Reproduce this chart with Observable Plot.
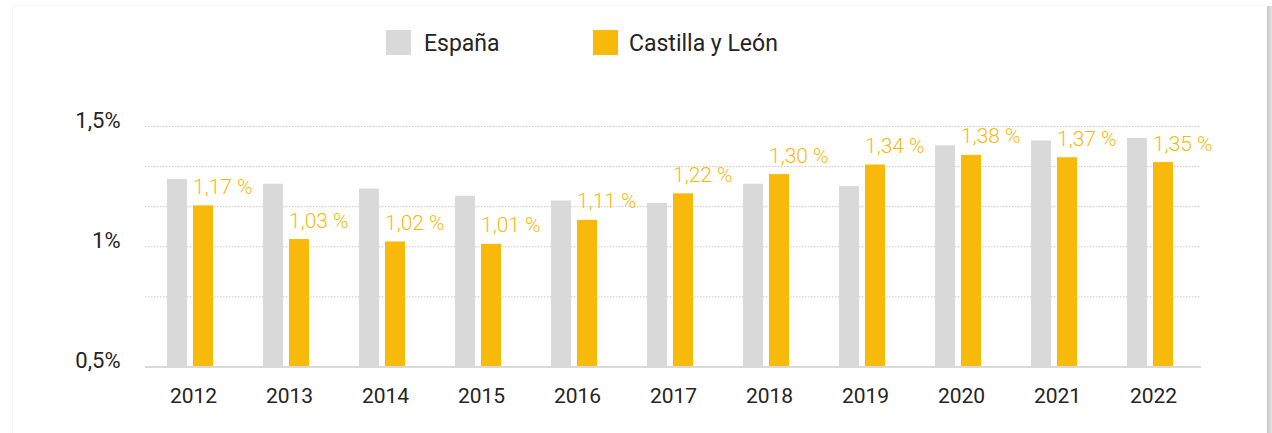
<!DOCTYPE html>
<html>
<head>
<meta charset="utf-8">
<script src="https://cdn.jsdelivr.net/npm/d3@7"></script>
<script src="https://cdn.jsdelivr.net/npm/@observablehq/plot@0.6"></script>
<style>
  html, body { margin: 0; padding: 0; background: #fff; }
  #wrap { position: relative; width: 1272px; height: 433px; overflow: hidden; font-family: Roboto, "Noto Sans", sans-serif; color: #252423; }
  #frame { position: absolute; left: 12px; top: 5px; right: 5px; bottom: -2px; border-left: 1px solid #f4f4f4; border-top: 1px solid #f4f4f4; }
  #shadow { position: absolute; left: 1267px; top: 6px; width: 5px; bottom: 0; background: linear-gradient(to right, #c6c6c6, #e4e4e4); }
  #legend { position: relative; height: 80px; }
  .sw { position: absolute; width: 25px; height: 25px; top: 30px; }
  .lt { position: absolute; top: 30px; font-size: 23px; line-height: 27px; color: #252423; white-space: nowrap; }
  #chart { position: absolute; left: 0; top: 80px; }
</style>
</head>
<body>
<div id="wrap">
  <div id="frame"></div>
  <div id="shadow"></div>
  <div id="legend"></div>
  <div id="chart"></div>
</div>
<script>
const years = ["2012","2013","2014","2015","2016","2017","2018","2019","2020","2021","2022"];
const espana = [1.28, 1.26, 1.24, 1.21, 1.19, 1.18, 1.26, 1.25, 1.42, 1.44, 1.45];
const castillaLeon = [1.17, 1.03, 1.02, 1.01, 1.11, 1.22, 1.30, 1.34, 1.38, 1.37, 1.35];
const seriesNames = ["España", "Castilla y León"];
const seriesColors = ["#D9D9D9", "#F9B90B"];
const yTicks = [0.5, 1, 1.5];
const gridValues = [1.5, 1.3333, 1.1667, 1.0, 0.7917];

const rows = [];
years.forEach((yr, i) => {
  rows.push({year: yr, series: seriesNames[0], value: espana[i]});
  rows.push({year: yr, series: seriesNames[1], value: castillaLeon[i]});
});
const cylRows = rows.filter(d => d.series === seriesNames[1]);

// legend
const legend = document.getElementById("legend");
const legendPos = [[386, 424], [593, 629]];
seriesNames.forEach((name, i) => {
  const sw = document.createElement("div");
  sw.className = "sw";
  sw.style.left = legendPos[i][0] + "px";
  sw.style.background = seriesColors[i];
  legend.appendChild(sw);
  const t = document.createElement("div");
  t.className = "lt";
  t.style.left = legendPos[i][1] + "px";
  t.textContent = name;
  legend.appendChild(t);
});

const yMin = yTicks[0], yMax = yTicks[yTicks.length - 1];
const fmtPct = v => String(v).replace(".", ",") + "%";
const fmtLabel = v => v.toFixed(2).replace(".", ",") + " %";

const chart = Plot.plot({
  width: 1272,
  height: 353,
  marginLeft: 143,
  marginRight: 69,
  marginTop: 46,
  marginBottom: 66.5,
  style: {fontFamily: "Roboto, 'Noto Sans', sans-serif", color: "#252423", background: "transparent"},
  fx: {domain: years, padding: 0},
  x: {domain: seriesNames, paddingInner: 0.222, paddingOuter: 0.9, align: 0.45, axis: null},
  y: {domain: [yMin, yMax]},
  color: {domain: seriesNames, range: seriesColors},
  marks: [
    Plot.ruleY(gridValues, {stroke: "#c9c9c9", strokeWidth: 1, strokeDasharray: "1.5,1.5"}),
    Plot.barY(rows, {fx: "year", x: "series", y1: yMin, y2: "value", fill: "series"}),
    Plot.ruleY([yMin], {stroke: "#d9d9d9", strokeWidth: 2}),
    Plot.text(cylRows, {
      fx: "year", x: "series", y: "value",
      text: d => fmtLabel(d.value),
      fill: seriesColors[1], fontSize: 21, fontWeight: 300,
      textAnchor: "start", lineAnchor: "bottom", dx: -10.5, dy: -12
    }),
    Plot.axisY({ticks: yTicks, tickFormat: fmtPct, tickSize: 0, tickPadding: 25, fontSize: 22, dy: -6, label: null}),
    Plot.axisFx({anchor: "bottom", tickSize: 0, tickPadding: 21, fontSize: 21, label: null})
  ]
});
document.getElementById("chart").appendChild(chart);
</script>
</body>
</html>
